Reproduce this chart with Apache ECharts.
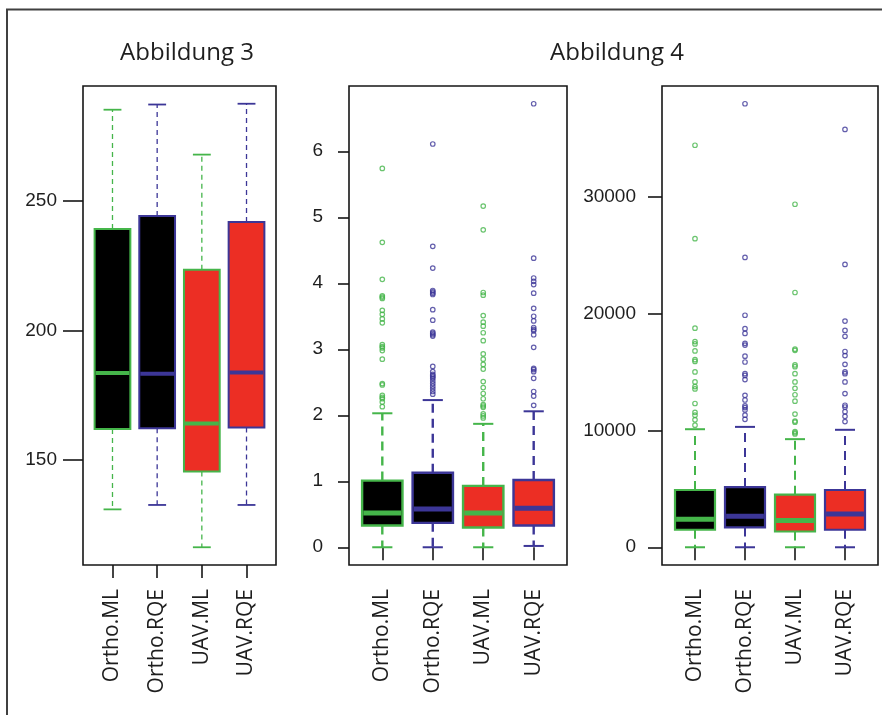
<!DOCTYPE html>
<html><head><meta charset="utf-8">
<script src="https://cdn.jsdelivr.net/npm/echarts@6/dist/echarts.min.js"></script>
<style>html,body{margin:0;padding:0;background:#fff}#c{width:882px;height:715px}</style>
</head><body><div id="c"></div>
<script>
const categories = ['Ortho.ML', 'Ortho.RQE', 'UAV.ML', 'UAV.RQE'];

// Abbildung 3 : [lower whisker, Q1, median, Q3, upper whisker]
const p1OrthoML  = [131.0, 162.0, 183.5, 239.0, 285.0];
const p1OrthoRQE = [132.7, 162.3, 183.3, 244.0, 287.0];
const p1UavML    = [116.4, 145.6, 164.1, 223.3, 267.7];
const p1UavRQE   = [132.7, 162.5, 183.7, 241.7, 287.3];
const p1Ticks = [150, 200, 250];

// Abbildung 4 (left)
const p2OrthoML  = [0.00, 0.33, 0.52, 1.01, 2.03];
const p2OrthoRQE = [0.00, 0.37, 0.58, 1.13, 2.23];
const p2UavML    = [0.00, 0.30, 0.52, 0.93, 1.87];
const p2UavRQE   = [0.02, 0.33, 0.59, 1.02, 2.06];
const p2OutOrthoML  = [5.74, 4.62, 4.06, 3.81, 3.79, 3.77, 3.59, 3.53, 3.46, 3.40, 3.07, 3.04, 3.02, 2.98, 2.85, 2.48, 2.46, 2.30, 2.27, 2.25, 2.20, 2.13];
const p2OutOrthoRQE = [6.11, 4.56, 4.23, 3.89, 3.87, 3.85, 3.83, 3.60, 3.44, 3.26, 3.24, 3.22, 3.20, 2.74, 2.66, 2.62, 2.60, 2.58, 2.56, 2.52, 2.48, 2.44, 2.40, 2.36, 2.32];
const p2OutUavML    = [5.17, 4.81, 3.86, 3.82, 3.51, 3.41, 3.35, 3.25, 3.13, 2.93, 2.85, 2.77, 2.70, 2.51, 2.42, 2.33, 2.25, 2.16, 2.14, 2.12, 2.02, 1.99, 1.96];
const p2OutUavRQE   = [6.72, 4.38, 4.08, 4.03, 3.98, 3.85, 3.62, 3.50, 3.43, 3.33, 3.30, 3.28, 3.22, 3.03, 2.71, 2.69, 2.66, 2.56, 2.36, 2.29, 2.15];
const p2Ticks = [0, 1, 2, 3, 4, 5, 6];

// Abbildung 4 (right)
const p3OrthoML  = [0, 1500, 2400, 4900, 10100];
const p3OrthoRQE = [0, 1700, 2650, 5150, 10300];
const p3UavML    = [0, 1350, 2300, 4500, 9250];
const p3UavRQE   = [0, 1500, 2850, 4900, 10050];
const p3OutOrthoML  = [34400, 26400, 18750, 17600, 17400, 16800, 16050, 15900, 15000, 14150, 13750, 13550, 12300, 11550, 11300, 10900, 10450];
const p3OutOrthoRQE = [37950, 24800, 19850, 18700, 18300, 17450, 17300, 16350, 15850, 14850, 14700, 14350, 13000, 12600, 12100, 11950, 11750, 11300, 10950];
const p3OutUavML    = [29350, 21800, 16950, 16850, 15600, 15450, 14850, 14150, 13600, 13050, 12500, 11400, 10800, 10700, 9900, 9800, 9700];
const p3OutUavRQE   = [35750, 24200, 19350, 18550, 18050, 16750, 16400, 15650, 15000, 14850, 14150, 13150, 12150, 12000, 11600, 11200, 10750];
const p3Ticks = [0, 10000, 20000, 30000];

const GREEN = '#45b54a', BLUE = '#3c3697', RED = '#ec2e24', BLACK = '#000000';
const fills = [BLACK, BLACK, RED, RED];
const strokes = [GREEN, BLUE, GREEN, BLUE];

const panels = [
  { stats: [p1OrthoML, p1OrthoRQE, p1UavML, p1UavRQE], outs: [[], [], [], []], ticks: p1Ticks,
    grid: { left: 83, top: 86, width: 193, height: 479 }, tickLen: 20,
    st: { whiskerW: 1.3, dash: [5, 4], capW: 1.8, boxW: 2, medW: 4 } },
  { stats: [p2OrthoML, p2OrthoRQE, p2UavML, p2UavRQE], outs: [p2OutOrthoML, p2OutOrthoRQE, p2OutUavML, p2OutUavRQE], ticks: p2Ticks,
    grid: { left: 349, top: 86, width: 218, height: 479 }, tickLen: 11,
    st: { whiskerW: 2.4, dash: [9, 6], capW: 2, boxW: 2.4, medW: 5 } },
  { stats: [p3OrthoML, p3OrthoRQE, p3UavML, p3UavRQE], outs: [p3OutOrthoML, p3OutOrthoRQE, p3OutUavML, p3OutUavRQE], ticks: p3Ticks,
    grid: { left: 662, top: 86, width: 216, height: 479 }, tickLen: 14,
    st: { whiskerW: 2, dash: [9, 6], capW: 2, boxW: 2.2, medW: 5 } }
];

function yRange(stats, outs) {
  const all = [];
  stats.forEach(s => all.push(...s));
  outs.forEach(o => all.push(...o));
  const mn = Math.min(...all), mx = Math.max(...all), d = (mx - mn) * 0.04;
  return [mn - d, mx + d];
}

function makeRender(st) {
  return function (params, api) {
    const k = api.value(6);
    const x = api.value(0);
    const p = [1, 2, 3, 4, 5].map(d => api.coord([x, api.value(d)]));
    const cx = p[0][0];
    const w = api.size([0.8, 0])[0];
    const cw = w / 2;
    const col = strokes[k];
    const dash = { stroke: col, lineWidth: st.whiskerW, lineDash: st.dash, fill: null };
    return {
      type: 'group',
      children: [
        { type: 'line', shape: { x1: cx, y1: p[3][1], x2: cx, y2: p[4][1] }, style: dash },
        { type: 'line', shape: { x1: cx, y1: p[1][1], x2: cx, y2: p[0][1] }, style: dash },
        { type: 'line', shape: { x1: cx - cw / 2, y1: p[4][1], x2: cx + cw / 2, y2: p[4][1] }, style: { stroke: col, lineWidth: st.capW } },
        { type: 'line', shape: { x1: cx - cw / 2, y1: p[0][1], x2: cx + cw / 2, y2: p[0][1] }, style: { stroke: col, lineWidth: st.capW } },
        { type: 'rect', shape: { x: cx - w / 2, y: p[3][1], width: w, height: p[1][1] - p[3][1] }, style: { fill: fills[k], stroke: col, lineWidth: st.boxW } },
        { type: 'line', shape: { x1: cx - w / 2 + st.boxW / 2, y1: p[2][1], x2: cx + w / 2 - st.boxW / 2, y2: p[2][1] }, style: { stroke: col, lineWidth: st.medW } }
      ]
    };
  };
}

const grid = [], xAxis = [], yAxis = [], series = [];
panels.forEach((pn, i) => {
  const r = yRange(pn.stats, pn.outs);
  grid.push(Object.assign({ show: true, borderColor: '#161616', borderWidth: 1.6, backgroundColor: 'transparent' }, pn.grid));
  xAxis.push({
    type: 'value', gridIndex: i, min: 0.34, max: 4.66,
    splitLine: { show: false }, axisLine: { show: false },
    axisTick: { show: true, inside: false, length: 13, customValues: [1, 2, 3, 4], lineStyle: { color: '#161616', width: 1.6 } },
    axisLabel: { customValues: [1, 2, 3, 4], formatter: v => categories[Math.round(v) - 1], rotate: 90, margin: 24,
      fontFamily: 'Open Sans', fontSize: 21, color: '#1e1e1e' }
  });
  yAxis.push({
    type: 'value', gridIndex: i, min: r[0], max: r[1],
    splitLine: { show: false }, axisLine: { show: false },
    axisTick: { show: true, inside: false, length: pn.tickLen, customValues: pn.ticks, lineStyle: { color: '#161616', width: 1.6 } },
    axisLabel: { customValues: pn.ticks, formatter: v => String(v), margin: 26, fontFamily: 'Liberation Sans', fontSize: 19, color: '#1e1e1e' }
  });
  series.push({
    type: 'custom', xAxisIndex: i, yAxisIndex: i, clip: false, z: 3, silent: true,
    data: pn.stats.map((s, k) => [k + 1, s[0], s[1], s[2], s[3], s[4], k]),
    encode: { x: 0, y: [1, 2, 3, 4, 5] },
    renderItem: makeRender(pn.st)
  });
  pn.outs.forEach((o, k) => {
    if (!o.length) return;
    series.push({
      type: 'scatter', xAxisIndex: i, yAxisIndex: i, z: 4, silent: true,
      symbol: 'circle', symbolSize: 4.5,
      itemStyle: { color: 'rgba(0,0,0,0)', borderColor: strokes[k], borderWidth: 1.2 },
      data: o.map(v => [k + 1, v])
    });
  });
});

const chart = echarts.init(document.getElementById('c'), null, { renderer: 'canvas' });
chart.setOption({
  animation: false,
  backgroundColor: '#ffffff',
  grid, xAxis, yAxis, series,
  graphic: [
    { type: 'rect', shape: { x: 7, y: 9.5, width: 1000, height: 1000 }, style: { fill: null, stroke: '#404040', lineWidth: 2 }, z: 0 },
    { type: 'text', x: 187, y: 53, style: { text: 'Abbildung 3', fontFamily: 'Open Sans', fontSize: 24, fill: '#1e1e1e', align: 'center', verticalAlign: 'middle' } },
    { type: 'text', x: 617, y: 53, style: { text: 'Abbildung 4', fontFamily: 'Open Sans', fontSize: 24, fill: '#1e1e1e', align: 'center', verticalAlign: 'middle' } }
  ]
});
</script>
</body></html>
